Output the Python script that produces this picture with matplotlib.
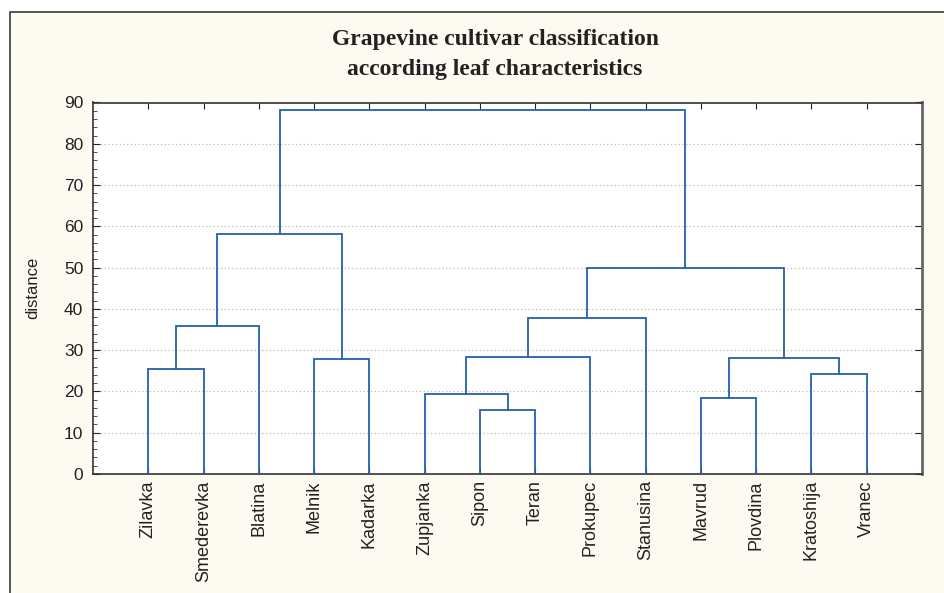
import matplotlib
matplotlib.use("Agg")
import matplotlib.pyplot as plt
from matplotlib.ticker import MultipleLocator
from matplotlib.patches import Rectangle

# ---- data ----
leaves = ["Zilavka", "Smederevka", "Blatina", "Melnik", "Kadarka", "Zupjanka",
          "Sipon", "Teran", "Prokupec", "Stanusina", "Mavrud", "Plovdina",
          "Kratoshija", "Vranec"]
# merges: new cluster index = 14 + row (scipy-style)
merge_a = [6, 10, 5, 12, 0, 3, 15, 16, 18, 21, 23, 22, 25]
merge_b = [7, 11, 14, 13, 1, 4, 17, 8, 2, 9, 20, 19, 24]
merge_h = [15.6, 18.3, 19.5, 24.3, 25.4, 27.9, 28.1, 28.3, 35.8, 37.8, 49.8, 58.1, 88.1]

title_lines = ["Grapevine cultivar classification", "according leaf characteristics"]
ylabel = "distance"

# ---- figure ----
W, H = 944, 593
fig = plt.figure(figsize=(W / 100, H / 100), dpi=100, facecolor="white")
bg = "#FDFAF2"
fig.add_artist(Rectangle((10 / W, -0.05), 1.1, 1 - 12 / H + 0.05,
                         transform=fig.transFigure, facecolor=bg,
                         edgecolor="#3a3a3a", linewidth=1.2, zorder=-10))

ax = fig.add_axes([93 / W, 1 - 474 / H, (922 - 93) / W, (474 - 102.5) / H])
ax.set_facecolor("white")

n = len(leaves)
xs = {i: float(i + 1) for i in range(n)}
hs = {i: 0.0 for i in range(n)}
line_color = "#2360AE"
for k, (a, b, h) in enumerate(zip(merge_a, merge_b, merge_h)):
    xa, xb = xs[a], xs[b]
    ax.plot([xa, xa, xb, xb], [hs[a], h, h, hs[b]], color=line_color,
            linewidth=1.3, solid_joinstyle="miter", zorder=3)
    idx = n + k
    xs[idx] = (xa + xb) / 2
    hs[idx] = h

ax.set_xlim(0, 15)
ax.set_ylim(0, 90)
ax.set_xticks(range(1, n + 1))
ax.set_xticklabels(leaves, rotation=90, fontsize=13, family="Liberation Sans",
                   color="#222222")
ax.yaxis.set_major_locator(MultipleLocator(10))
ax.yaxis.set_minor_locator(MultipleLocator(2))
ax.tick_params(axis="y", which="major", direction="in", left=True, right=True,
               length=5, labelsize=12.5, pad=7, colors="#222222")
ax.tick_params(axis="y", which="minor", direction="in", left=True, right=False,
               length=3, color="#333333")
ax.tick_params(axis="x", which="major", direction="in", top=True, bottom=True,
               length=4, pad=4.5, colors="#222222")
for lab in ax.get_yticklabels():
    lab.set_family("Liberation Sans")

ax.yaxis.grid(True, linestyle=(0, (1, 2)), color="#b8b8b8", linewidth=0.9)
ax.set_axisbelow(True)

for side in ["left", "bottom", "top"]:
    ax.spines[side].set_color("#333333")
    ax.spines[side].set_linewidth(1.2)
ax.spines["right"].set_color("#666666")
ax.spines["right"].set_linewidth(2.0)

fig.text(33 / W, 1 - 288 / H, ylabel, rotation=90, ha="center", va="center",
         fontsize=12, family="Liberation Sans", color="#222222")
fig.text(495 / W, 1 - 45 / H, title_lines[0], ha="center", va="baseline",
         fontsize=17, fontweight="bold", family="Liberation Serif", color="#222222")
fig.text(495 / W, 1 - 75 / H, title_lines[1], ha="center", va="baseline",
         fontsize=17, fontweight="bold", family="Liberation Serif", color="#222222")

fig.savefig("out.png", dpi=100, facecolor=fig.get_facecolor())
